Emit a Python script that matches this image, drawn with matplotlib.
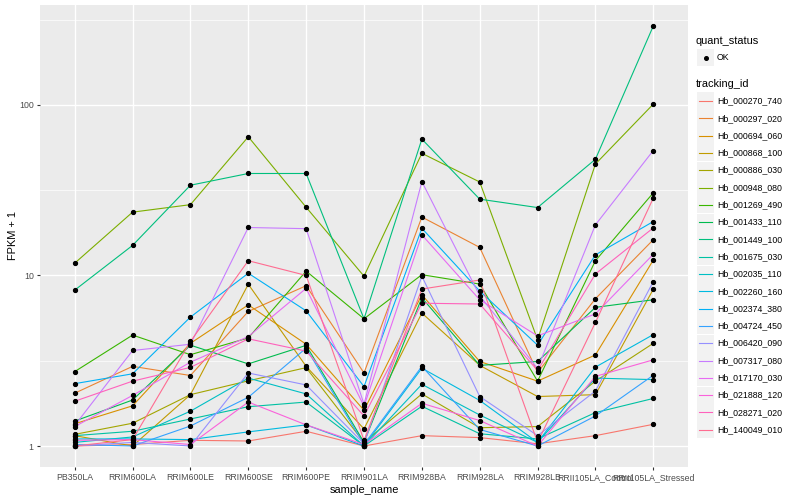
import matplotlib
matplotlib.use("Agg")
import matplotlib.pyplot as plt
from matplotlib.lines import Line2D
from matplotlib.patches import Rectangle
from matplotlib.ticker import FixedLocator, NullFormatter
import numpy as np

plt.rcParams['font.family'] = ['Liberation Sans', 'DejaVu Sans']

samples = ["PB350LA", "RRIM600LA", "RRIM600LE", "RRIM600SE", "RRIM600PE", "RRIM901LA",
           "RRIM928BA", "RRIM928LA", "RRIM928LB", "RRII105LA_Control", "RRII105LA_Stressed"]

tracking_ids = ["Hb_000270_740", "Hb_000297_020", "Hb_000694_060", "Hb_000868_100",
                "Hb_000886_030", "Hb_000948_080", "Hb_001269_490", "Hb_001433_110",
                "Hb_001449_100", "Hb_001675_030", "Hb_002035_110", "Hb_002260_160",
                "Hb_002374_380", "Hb_004724_450", "Hb_006420_090", "Hb_007317_080",
                "Hb_017170_030", "Hb_021888_120", "Hb_028271_020", "Hb_140049_010"]

# FPKM + 1 per sample
hb_000270_740 = [1.0, 1.02, 1.08, 1.07, 1.22, 1.0, 1.15, 1.12, 1.03, 1.15, 1.34]
hb_000297_020 = [2.04, 2.93, 2.59, 6.15, 8.7, 2.68, 22.0, 14.6, 2.7, 7.3, 16.2]
hb_000694_060 = [1.35, 1.72, 4.0, 6.72, 3.95, 1.62, 7.7, 3.13, 2.4, 3.42, 12.3]
hb_000868_100 = [1.15, 1.0, 2.0, 8.88, 2.93, 1.26, 6.02, 2.97, 1.95, 2.0, 8.3]
hb_000886_030 = [1.17, 1.36, 2.0, 2.41, 2.88, 1.05, 2.02, 1.28, 1.3, 2.4, 4.0]
hb_000948_080 = [11.8, 23.5, 26.0, 65.0, 25.1, 9.9, 52.0, 35.3, 4.2, 45.0, 101.0]
hb_001269_490 = [2.73, 4.47, 3.43, 4.3, 10.6, 5.57, 10.1, 8.9, 2.4, 12.2, 30.5]
hb_001433_110 = [1.40, 1.86, 3.9, 3.03, 3.89, 1.05, 7.4, 2.97, 3.13, 6.5, 7.2]
hb_001449_100 = [8.2, 15.0, 33.8, 39.6, 39.6, 5.57, 63.0, 28.0, 25.0, 48.0, 290.0]
hb_001675_030 = [1.15, 1.22, 1.44, 1.70, 1.81, 1.0, 1.71, 1.18, 1.1, 1.57, 1.9]
hb_002035_110 = [1.05, 1.13, 1.6, 2.5, 2.02, 1.0, 2.3, 1.52, 1.05, 2.5, 2.45]
hb_002260_160 = [1.1, 1.1, 1.09, 1.21, 1.33, 1.0, 2.86, 1.85, 1.05, 2.9, 4.5]
hb_002374_380 = [2.32, 2.65, 5.7, 10.3, 6.2, 2.23, 18.9, 8.1, 3.9, 13.2, 20.7]
hb_004724_450 = [1.02, 1.0, 1.31, 1.93, 3.75, 1.02, 2.93, 1.25, 1.0, 1.5, 2.6]
hb_006420_090 = [1.0, 1.05, 1.0, 2.68, 2.28, 1.03, 9.9, 1.95, 1.15, 2.1, 9.2]
hb_007317_080 = [1.32, 3.63, 3.95, 19.1, 18.8, 1.76, 35.5, 7.6, 2.85, 19.8, 54.0]
hb_017170_030 = [1.3, 1.98, 3.1, 4.38, 8.4, 1.71, 17.3, 7.2, 4.42, 5.95, 13.3]
hb_021888_120 = [1.08, 1.09, 1.02, 1.81, 1.33, 1.02, 1.78, 1.41, 1.0, 2.56, 3.2]
hb_028271_020 = [1.83, 2.40, 2.89, 4.25, 3.6, 1.5, 6.87, 6.8, 2.77, 10.2, 19.0]
hb_140049_010 = [1.0, 1.09, 4.1, 12.2, 10.0, 1.08, 8.32, 9.4, 1.05, 5.3, 28.4]

series = [hb_000270_740, hb_000297_020, hb_000694_060, hb_000868_100, hb_000886_030,
          hb_000948_080, hb_001269_490, hb_001433_110, hb_001449_100, hb_001675_030,
          hb_002035_110, hb_002260_160, hb_002374_380, hb_004724_450, hb_006420_090,
          hb_007317_080, hb_017170_030, hb_021888_120, hb_028271_020, hb_140049_010]

# ggplot hue palette for 20 levels
colors = ["#F8766D", "#EA8331", "#D89000", "#C09B00", "#A3A500", "#7CAE00", "#39B600",
          "#00BB4E", "#00BF7D", "#00C1A3", "#00BFC4", "#00BAE0", "#00B0F6", "#35A2FF",
          "#9590FF", "#C77CFF", "#E76BF3", "#FA62DB", "#FF62BC", "#FF6C91"]

W, H = 800, 500


def px(x, y):
    return x / W, 1 - y / H


fig = plt.figure(figsize=(8, 5), dpi=100)
ax = fig.add_axes([40 / W, 1 - 467 / H, 648 / W, 462 / H])
ax.set_facecolor("#EBEBEB")

xs = np.arange(len(samples))
for vals, c in zip(series, colors):
    ax.plot(xs, vals, color=c, lw=0.8, zorder=3)
for vals in series:
    ax.plot(xs, vals, 'o', color='black', ms=2.8, zorder=4)

ax.set_yscale('log')
lo = np.log10(min(min(s) for s in series))
hi = np.log10(max(max(s) for s in series))
pad = (hi - lo) * 0.05
ax.set_ylim(10 ** (lo - pad), 10 ** (hi + pad))
ax.set_xlim(-0.6, len(samples) - 0.4)

ax.yaxis.set_major_locator(FixedLocator([1, 10, 100]))
ax.set_yticklabels(["1", "10", "100"])
ax.yaxis.set_minor_locator(FixedLocator([10 ** 0.5, 10 ** 1.5, 10 ** 2.5]))
ax.yaxis.set_minor_formatter(NullFormatter())
ax.set_xticks(xs)
ax.set_xticklabels(samples)

ax.grid(True, which='major', color='white', lw=1.0, zorder=1)
ax.grid(True, which='minor', axis='y', color='white', lw=0.5, zorder=1)
ax.set_axisbelow(True)
for s in ax.spines.values():
    s.set_visible(False)
ax.tick_params(axis='both', which='major', length=2.5, width=0.8, color='#333333',
               labelsize=6.3, labelcolor='#4D4D4D', pad=2)
ax.tick_params(axis='y', which='minor', length=0)

ax.set_xlabel("sample_name", fontsize=7.9, labelpad=2)
ax.set_ylabel("FPKM + 1", fontsize=7.9, labelpad=1)

# legends drawn by hand, ggplot style
fig.text(*px(696, 41), "quant_status", fontsize=7.9, va='center', ha='left')
fig.patches.append(Rectangle(px(697, 66), 17 / W, 17 / H, transform=fig.transFigure,
                             facecolor="#F2F2F2", edgecolor='none'))
fig.lines.append(Line2D([705.5 / W], [1 - 57.5 / H], marker='o', color='black', ms=2.6,
                        transform=fig.transFigure))
fig.text(*px(717, 57.5), "OK", fontsize=6.3, va='center', ha='left')

fig.text(*px(696, 84), "tracking_id", fontsize=7.9, va='center', ha='left')
for i, (name, c) in enumerate(zip(tracking_ids, colors)):
    yc = 101 + i * 17.3
    fig.patches.append(Rectangle(px(697, yc + 8.5), 17 / W, 17 / H, transform=fig.transFigure,
                                 facecolor="#F2F2F2", edgecolor='none'))
    fig.lines.append(Line2D([699 / W, 712 / W], [1 - yc / H, 1 - yc / H], color=c, lw=0.8,
                            transform=fig.transFigure))
    fig.text(*px(717, yc), name, fontsize=6.3, va='center', ha='left')

fig.savefig("out.png", dpi=100)
